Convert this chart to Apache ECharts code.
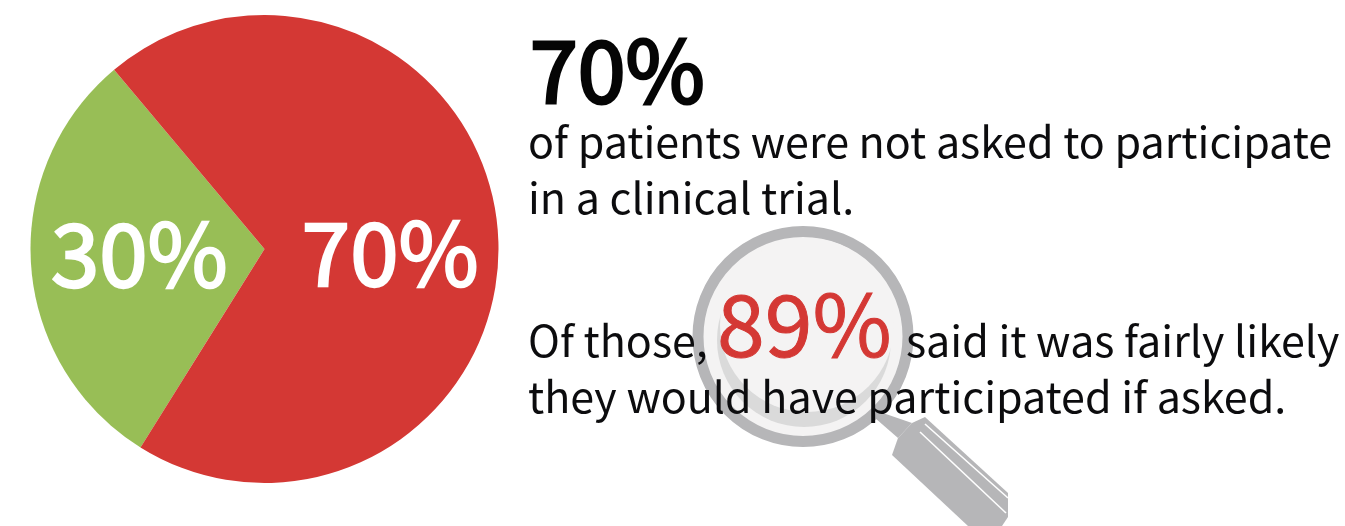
<!DOCTYPE html>
<html><head><meta charset="utf-8"><style>html,body{margin:0;padding:0;background:#fff}#c{width:1345px;height:526px}</style>
<script src="https://cdn.jsdelivr.net/npm/echarts@6/dist/echarts.min.js"></script></head>
<body><div id="c"></div><script>
const categories=['30%','70%'];
const values=[30,70];
const colors=['#98BE56','#D43834'];
const chart=echarts.init(document.getElementById('c'));
const F='"Noto Sans CJK SC","Noto Sans",sans-serif';
const txt=(x,y,t,s,c,b)=>({type:'text',z:5,style:{x,y,text:t,fontSize:s,fontFamily:F,fontWeight:400,fill:c||'#0c0c0e',stroke:b?c:null,lineWidth:b||0,textVerticalAlign:'middle'}});
const G='#B6B6B8';
const offsets=[[-5.5,-3],[6,12.5]];
chart.setOption({animation:false,
series:[{type:'pie',center:[264.5,249],radius:[0,234],startAngle:130,clockwise:false,
 label:{show:true,position:'inside',formatter:'{b}',color:'#fff',fontSize:87,fontFamily:F,fontWeight:400,textBorderColor:'#fff',textBorderWidth:2.4},
 labelLine:{show:false},silent:true,
 data:categories.map((n,i)=>({name:n,value:values[i],itemStyle:{color:colors[i]},label:{offset:offsets[i]}}))}],
graphic:[
 {type:'polygon',z:1,shape:{points:[[880,412],[912,423],[898,438],[875,418]]},style:{fill:G}},
 {type:'polygon',z:1,shape:{points:[[925,417],[1008,493],[1008,517],[1002,526],[968,526],[892,455],[898,438],[912,423]]},style:{fill:G}},
 {type:'line',z:2,shape:{x1:925,y1:424,x2:1008,y2:498},style:{stroke:'#fff',lineWidth:1.6}},
 {type:'line',z:2,shape:{x1:920,y1:432,x2:1006,y2:513},style:{stroke:'#fff',lineWidth:1.6}},
 {type:'circle',z:1,shape:{cx:803,cy:336.5,r:105},style:{fill:'#F4F3F3',stroke:G,lineWidth:11}},
 {type:'circle',z:2,shape:{cx:804,cy:340,r:87},style:{fill:'#DADADA'}},
 {type:'circle',z:3,shape:{cx:807,cy:325,r:87},style:{fill:'#F4F3F3'}},
 txt(530,70,'70%',86,'#050505',3),
 txt(528,142,'of patients were not asked to participate',43),
 txt(528,198,'in a clinical trial.',43),
 txt(528,341,'Of those,',43),
 txt(717,324,'89%',86,'#D43834',1),
 txt(906,341,'said it was fairly likely',43),
 txt(528,397,'they would have participated if asked.',43)
]});
</script></body></html>
